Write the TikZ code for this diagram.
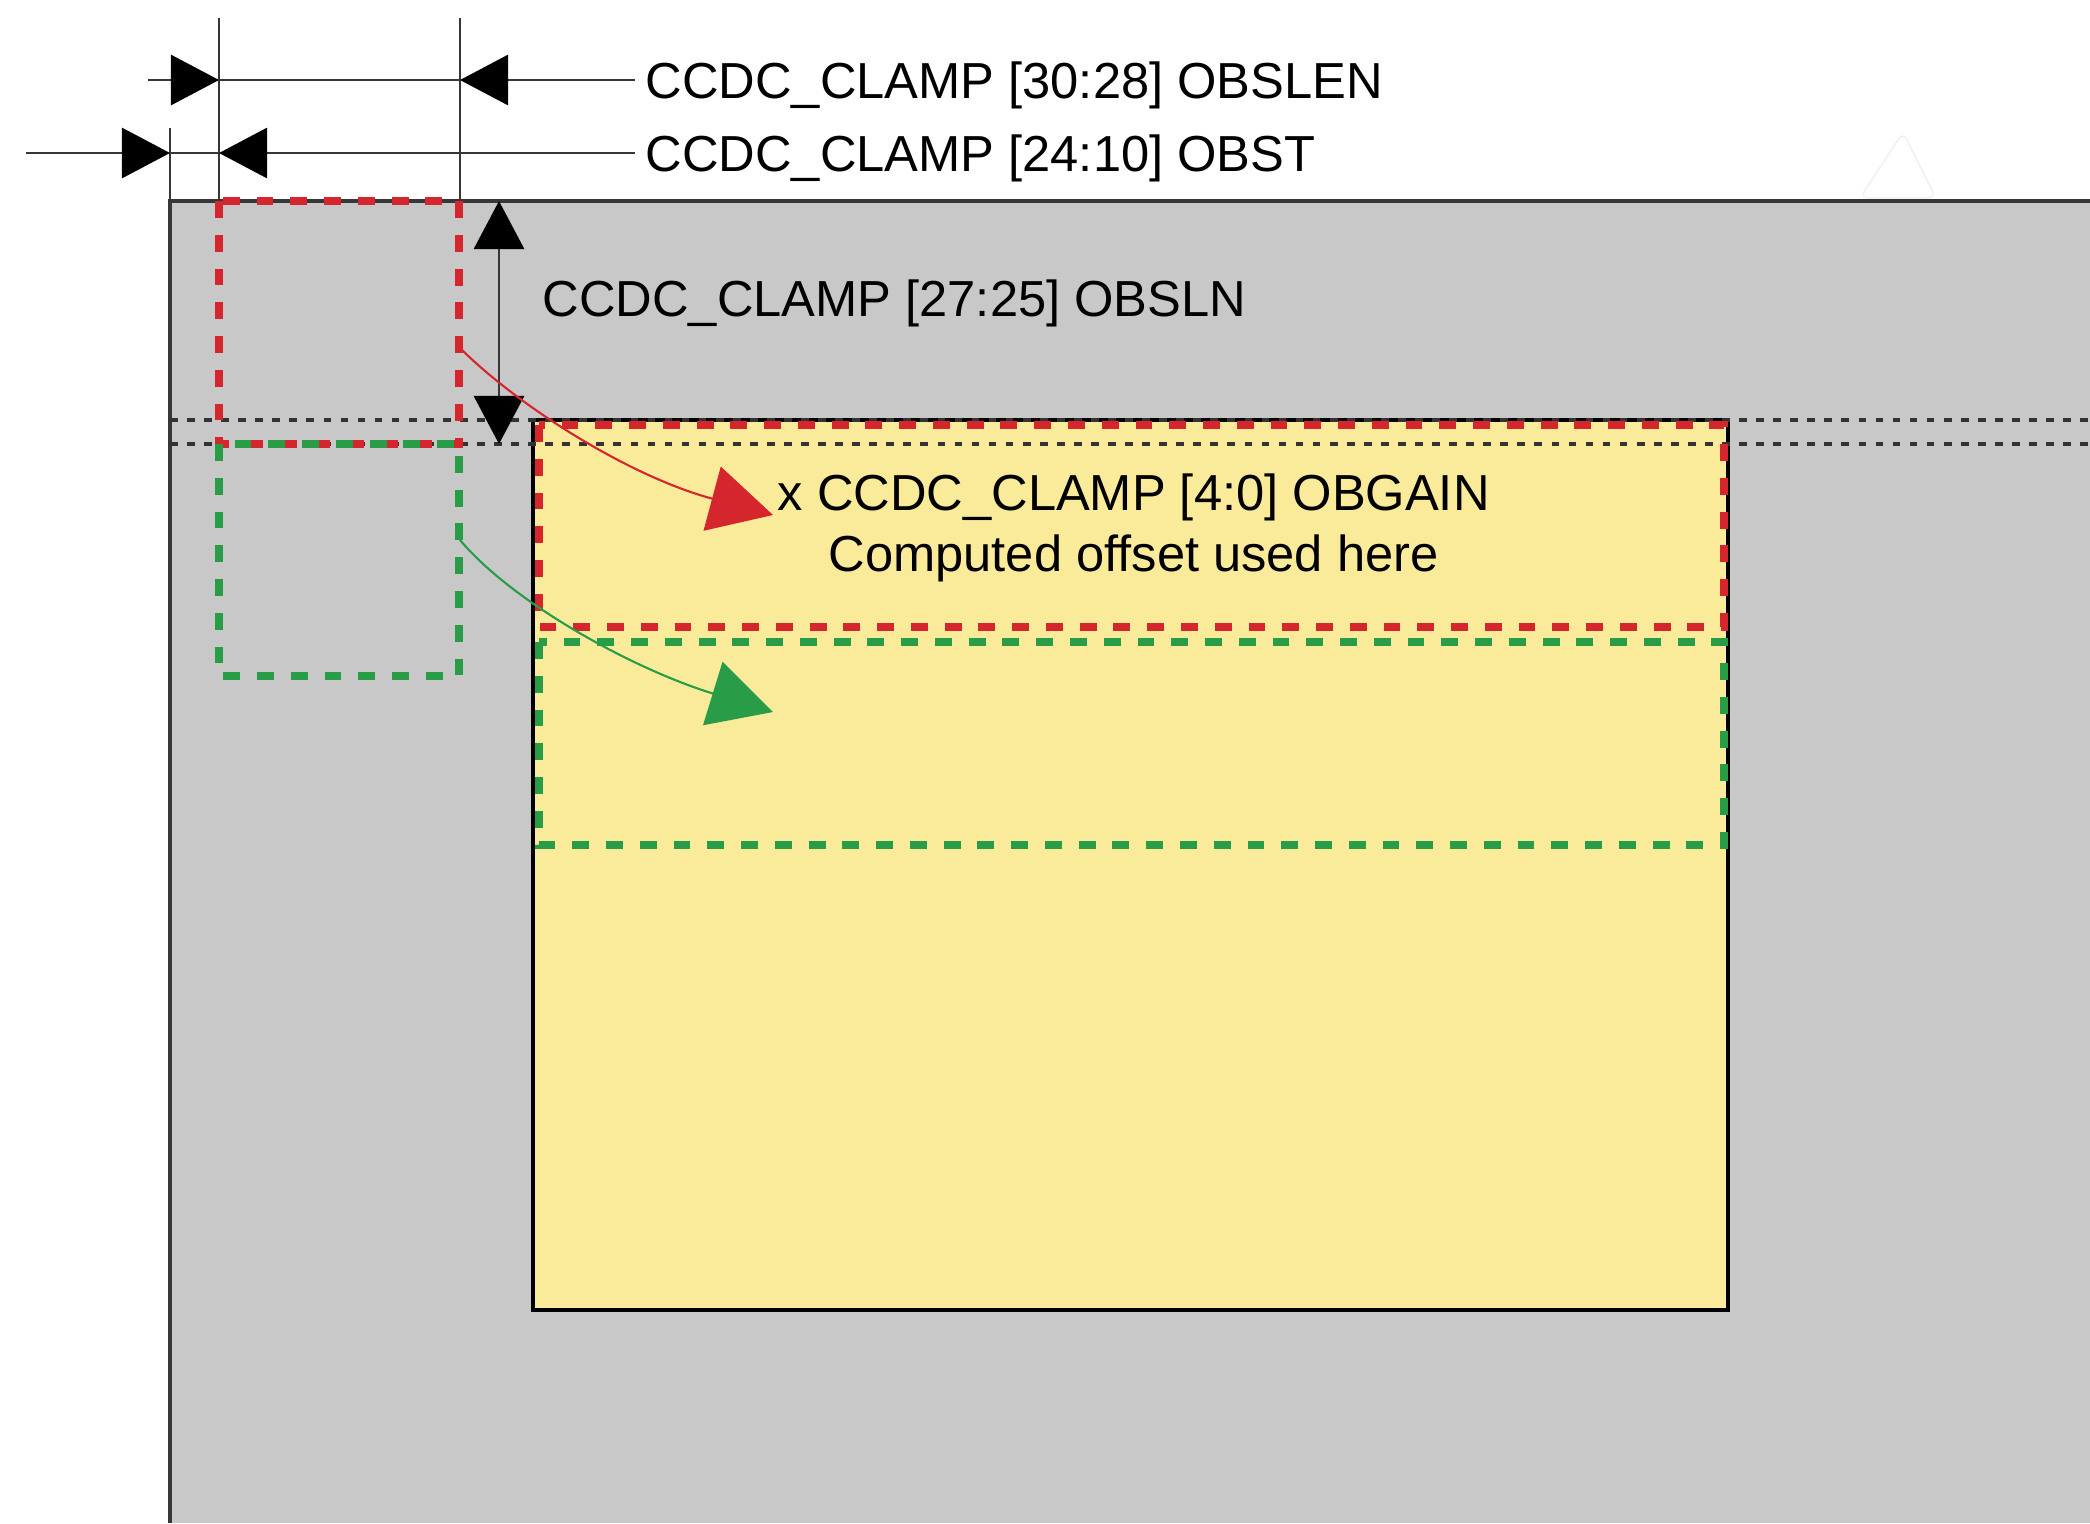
\documentclass[tikz,border=0pt]{standalone}
\usepackage{fontspec}
\setmainfont{Liberation Sans}
\usetikzlibrary{arrows.meta}

\definecolor{framegray}{RGB}{200,200,200}
\definecolor{activeyellow}{RGB}{250,235,155}
\definecolor{clampred}{RGB}{214,38,45}
\definecolor{clampgreen}{RGB}{40,156,70}
\definecolor{dimgray}{RGB}{55,55,55}

\begin{document}
\begin{tikzpicture}[x=0.01cm, y=-0.01cm, >={Triangle[length=0.48cm, width=0.5cm, color=black]},
        lbl/.style={font=\fontsize{14.4}{17.4}\selectfont, inner sep=0pt, text height=10.3pt, text depth=0pt},
        dimline/.style={color=dimgray, line width=0.8pt},
        rowline/.style={color=black!80, line width=1.25pt, dash pattern=on 2.2pt off 2.65pt},
        redbox/.style={color=clampred, line width=2.2pt, dash pattern=on 4.8pt off 4.8pt},
        greenbox/.style={color=clampgreen, line width=2.2pt, dash pattern=on 4.8pt off 4.8pt},
        gainarrow/.style={line width=0.6pt, -{Triangle[length=0.63cm, width=0.66cm]}}]
        \useasboundingbox (0,0) rectangle (2090,1523);
        \fill[white] (0,0) rectangle (2090,1523);

        %frame
        \fill[framegray] (170,201) rectangle (2090,1523);
        \draw[fill=white, draw=black!6, line width=0.4pt, rounded corners=0.08cm] (1903,132) -- (1936,198) -- (1860,198) -- cycle;
        \draw[color=dimgray, line width=1pt] (170,1523) -- (170,201) -- (2090,201);

        %active area
        \draw[fill=activeyellow, draw=black, line width=0.9pt] (533,420) rectangle (1728,1310);

        %clamp lines
        \draw[rowline] (170,420) -- (2090,420);
        \draw[rowline] (170,444) -- (2090,444);

        %windows
        \draw[redbox] (219,201) rectangle (459,444);
        \draw[greenbox] (219,444) rectangle (459,676);
        \draw[redbox] (539,425) rectangle (1724,627);
        \draw[greenbox] (539,642) rectangle (1724,845);

        %labels
        \node[lbl, anchor=west] (obslen) at (645,80) {CCDC\_CLAMP [30:28] OBSLEN};
        \node[lbl, anchor=west] (obst) at (645,153) {CCDC\_CLAMP [24:10] OBST};
        \node[lbl, anchor=west] (obsln) at (542,298) {CCDC\_CLAMP [27:25] OBSLN};
        \node[lbl, anchor=west] (obgain) at (777,492) {x CCDC\_CLAMP [4:0] OBGAIN};
        \node[lbl, anchor=south] (offset) at ([yshift=-0.61cm]obgain.south) {Computed offset used here};

        %extension lines
        \coordinate (obsA) at (219,18);
        \coordinate (obsB) at (460,18);
        \coordinate (edgeTop) at (170,128);
        \coordinate (clampTop) at (499,201);
        \coordinate (clampBot) at (499,444);
        \draw[dimline] (obsA) -- (obsA |- clampTop);
        \draw[dimline] (obsB) -- (obsB |- clampTop);
        \draw[dimline] (edgeTop) -- (edgeTop |- clampTop);

        %dimension lines
        \coordinate (obslenStart) at (148,80);
        \coordinate (obstStart) at (26,153);
        \draw[dimline, ->] ([xshift=-0.1cm]obslen.west) -- (obsB |- obslen.west);
        \draw[dimline] (obsB |- obslen.west) -- (obsA |- obslen.west);
        \draw[dimline, ->] (obslenStart) -- (obsA |- obslen.west);

        \draw[dimline, ->] ([xshift=-0.1cm]obst.west) -- (obsA |- obst.west);
        \draw[dimline] (obsA |- obst.west) -- (edgeTop |- obst.west);
        \draw[dimline, ->] (obstStart) -- (edgeTop |- obst.west);

        \draw[dimline, <->] (clampTop) -- (clampBot);

        %gain arrows
        \coordinate (redFrom) at (460,348);
        \coordinate (redTo) at (773,515);
        \coordinate (greenFrom) at (460,540);
        \coordinate (greenTo) at (773,712);
        \draw[color=clampred, gainarrow] (redFrom) .. controls +(57,57) and +(-145,-39) .. (redTo);
        \draw[color=clampgreen, gainarrow] (greenFrom) .. controls +(51,61) and +(-143,-44) .. (greenTo);
\end{tikzpicture}
\end{document}
